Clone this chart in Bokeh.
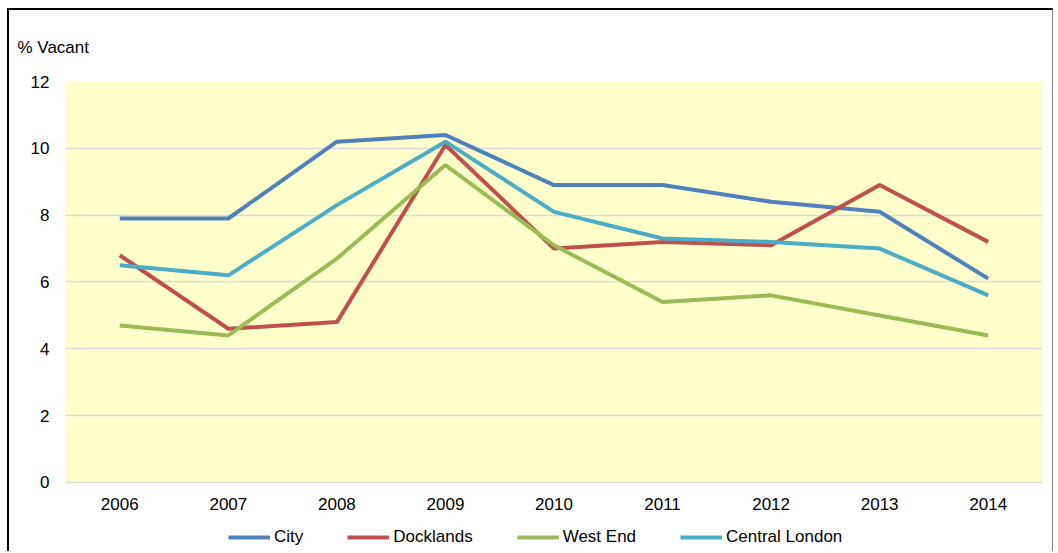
from bokeh.plotting import figure
from bokeh.models import Legend, LegendItem, FixedTicker, Title, BoxAnnotation
from bokeh.embed import file_html
from bokeh.resources import INLINE

years = ["2006", "2007", "2008", "2009", "2010", "2011", "2012", "2013", "2014"]
city = [7.9, 7.9, 10.2, 10.4, 8.9, 8.9, 8.4, 8.1, 6.1]
docklands = [6.8, 4.6, 4.8, 10.1, 7.0, 7.2, 7.1, 8.9, 7.2]
west_end = [4.7, 4.4, 6.7, 9.5, 7.1, 5.4, 5.6, 5.0, 4.4]
central_london = [6.5, 6.2, 8.3, 10.2, 8.1, 7.3, 7.2, 7.0, 5.6]
y_ticks = [0, 2, 4, 6, 8, 10, 12]

series = [
    ("City", city, "#4F81BD"),
    ("Docklands", docklands, "#C0504D"),
    ("West End", west_end, "#9BBB59"),
    ("Central London", central_london, "#4BACC6"),
]

FONT = "Liberation Sans"
FS = "17px"
Y_MIN, Y_MAX = y_ticks[0], y_ticks[-1]

# The frame reaches down to the bottom of the canvas so that the legend
# (drawn inside the frame) is not clipped; the yellow plot area is a box
# from 0 to 12 and the x axis is pinned at y = 0.
p = figure(width=1046, height=543, x_range=years, y_range=(-2.125, Y_MAX),
           output_backend="svg", toolbar_location=None,
           margin=(8, 0, 0, 7),
           min_border_left=56, min_border_top=71, min_border_right=13,
           min_border_bottom=0)
p.styles = {"border-left": "2px solid #000000", "border-top": "2px solid #000000",
            "border-right": "1px solid #808080"}

p.title = Title(text="% Vacant", align="left", offset=-48, standoff=46,
                vertical_align="top",
                text_font=FONT, text_font_size=FS, text_font_style="normal",
                text_color="#000000")

p.background_fill_color = "#FFFFFF"
p.border_fill_color = "#FFFFFF"
p.outline_line_color = None

p.add_layout(BoxAnnotation(bottom=Y_MIN, top=Y_MAX, fill_color="#FFFFCC",
                           fill_alpha=1.0, line_color=None, level="image"))

p.xgrid.grid_line_color = None
p.ygrid.grid_line_color = "#D9D9D9"
p.ygrid.grid_line_width = 1.5
p.yaxis.ticker = FixedTicker(ticks=y_ticks)
p.xaxis.fixed_location = Y_MIN

for ax in (p.xaxis, p.yaxis):
    ax.axis_line_color = None
    ax.major_tick_line_color = None
    ax.minor_tick_line_color = None
    ax.major_label_text_font = FONT
    ax.major_label_text_font_size = FS
    ax.major_label_text_color = "#000000"
p.xaxis.major_label_standoff = 10
p.yaxis.major_label_standoff = 10

items = []
for name, vals, color in series:
    r = p.line(years, vals, line_color=color, line_width=4)
    items.append(LegendItem(label=name, renderers=[r]))

legend = Legend(items=items, orientation="horizontal", location=(163, 6),
                glyph_width=42, glyph_height=20, label_standoff=4, spacing=44,
                padding=0, margin=0, border_line_color=None,
                background_fill_alpha=0,
                label_text_font=FONT, label_text_font_size=FS,
                label_text_color="#000000")
p.add_layout(legend, "center")

open("out.html", "w").write(file_html(p, INLINE))
